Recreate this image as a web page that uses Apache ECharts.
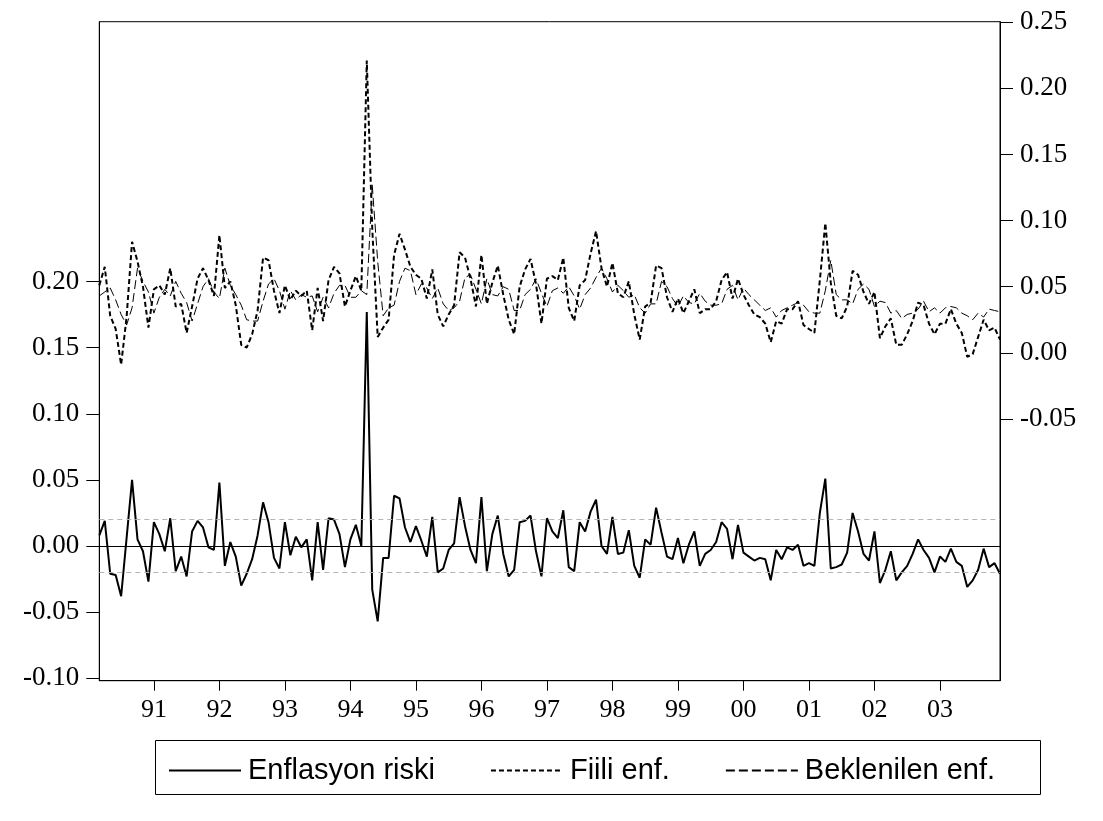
<!DOCTYPE html>
<html><head><meta charset="utf-8">
<script src="https://cdn.jsdelivr.net/npm/echarts@6/dist/echarts.min.js"></script>
<style>html,body{margin:0;padding:0;background:#fff}#c{width:1103px;height:821px}</style>
</head><body><div id="c"></div>
<script>
// Monthly observations 1990M03 - 2003M12
const startYear = 1990, startMonth = 3, nObs = 166;
const yearLabels = ['91','92','93','94','95','96','97','98','99','00','01','02','03'];
const leftTicks = [-0.10,-0.05,0.00,0.05,0.10,0.15,0.20];
const rightTicks = [-0.05,0.00,0.05,0.10,0.15,0.20,0.25];
const residBand = 0.0227;

const residual = [
 0.008,0.019,-0.021,-0.022,-0.038,0.006,0.050,0.005,-0.004,-0.027,0.018,0.009,-0.004,0.021,-0.019,-0.008,-0.023,0.011,0.019,0.014,-0.001,-0.003,0.048,-0.015,0.003,-0.008,-0.030,-0.021,-0.010,0.008,0.033,0.018,-0.009,-0.017,0.018,-0.007,0.007,-0.001,0.005,-0.026,0.018,-0.018,
 0.021,0.020,0.009,-0.016,0.005,0.016,0.000,0.177,-0.033,-0.057,-0.009,-0.009,0.038,0.036,0.014,0.003,0.015,0.004,-0.008,0.022,-0.020,-0.017,-0.003,0.002,0.037,0.015,-0.003,-0.013,0.037,-0.019,0.009,0.023,-0.006,-0.023,-0.018,0.018,0.019,0.023,-0.004,-0.023,
 0.021,0.011,0.006,0.027,-0.016,-0.019,0.018,0.011,0.026,0.035,0.000,-0.006,0.022,-0.006,-0.005,0.012,-0.015,-0.024,0.005,0.001,0.029,0.010,-0.008,-0.010,0.006,-0.013,0.001,0.011,-0.015,-0.006,-0.003,0.003,0.018,0.013,-0.010,0.016,-0.005,-0.008,-0.011,-0.009,
 -0.010,-0.026,-0.003,-0.010,-0.001,-0.003,0.001,-0.015,-0.013,-0.015,0.025,0.051,-0.017,-0.016,-0.014,-0.005,0.025,0.011,-0.006,-0.011,0.011,-0.028,-0.018,-0.004,-0.026,-0.020,-0.015,-0.006,0.005,-0.003,-0.009,-0.020,-0.008,-0.012,-0.002,-0.012,-0.015,-0.031,-0.026,-0.018,-0.002,-0.016,-0.013,-0.021
];
const actual = [
 0.051,0.065,0.028,0.018,-0.009,0.027,0.084,0.069,0.050,0.019,0.048,0.051,0.044,0.064,0.035,0.037,0.015,0.035,0.056,0.064,0.055,0.043,0.089,0.049,0.054,0.036,0.006,0.004,0.014,0.032,0.072,0.070,0.047,0.030,0.051,0.040,0.047,0.043,0.047,0.017,0.049,0.024,
 0.055,0.065,0.060,0.035,0.047,0.058,0.047,0.221,0.094,0.012,0.019,0.025,0.074,0.090,0.078,0.065,0.059,0.056,0.041,0.063,0.029,0.020,0.029,0.036,0.076,0.072,0.056,0.035,0.074,0.037,0.053,0.066,0.044,0.025,0.014,0.050,0.063,0.071,0.052,0.022,
 0.056,0.058,0.055,0.072,0.034,0.024,0.051,0.055,0.075,0.092,0.064,0.050,0.068,0.045,0.042,0.054,0.029,0.010,0.035,0.038,0.066,0.064,0.042,0.031,0.041,0.030,0.039,0.048,0.030,0.033,0.033,0.039,0.055,0.061,0.041,0.056,0.044,0.036,0.029,0.027,
 0.022,0.008,0.024,0.022,0.033,0.033,0.039,0.021,0.018,0.015,0.055,0.098,0.053,0.028,0.026,0.035,0.062,0.059,0.046,0.037,0.046,0.011,0.020,0.026,0.006,0.006,0.014,0.024,0.038,0.036,0.022,0.014,0.022,0.022,0.033,0.022,0.015,-0.003,-0.001,0.012,0.025,0.017,0.019,0.010
];
const fitted = [
 0.043,0.046,0.049,0.040,0.029,0.021,0.034,0.064,0.054,0.046,0.030,0.042,0.048,0.043,0.054,0.045,0.038,0.024,0.037,0.050,0.056,0.046,0.041,0.064,0.051,0.044,0.036,0.025,0.024,0.024,0.039,0.052,0.056,0.047,0.033,0.047,0.040,0.044,0.042,0.043,0.031,0.042,
 0.034,0.045,0.051,0.051,0.042,0.042,0.047,0.044,0.127,0.069,0.028,0.034,0.036,0.054,0.064,0.062,0.044,0.052,0.049,0.041,0.049,0.037,0.032,0.034,0.039,0.057,0.059,0.048,0.037,0.056,0.044,0.043,0.050,0.048,0.032,0.032,0.044,0.048,0.056,0.045,
 0.035,0.047,0.049,0.045,0.050,0.043,0.033,0.044,0.049,0.057,0.064,0.056,0.046,0.051,0.047,0.042,0.044,0.034,0.030,0.037,0.037,0.054,0.050,0.041,0.035,0.043,0.038,0.037,0.045,0.039,0.036,0.036,0.037,0.048,0.051,0.040,0.049,0.044,0.040,0.036,
 0.032,0.034,0.027,0.032,0.034,0.036,0.038,0.036,0.031,0.030,0.030,0.047,0.070,0.044,0.040,0.040,0.037,0.048,0.052,0.048,0.035,0.039,0.038,0.030,0.032,0.026,0.029,0.030,0.033,0.039,0.031,0.034,0.030,0.034,0.035,0.034,0.030,0.028,0.025,0.030,0.027,0.033,0.032,0.031
];

const categories = [];
for (let k = 0; k < nObs; k++) {
  const t = (startMonth - 1) + k;
  const yy = startYear + Math.floor(t / 12), mm = (t % 12) + 1;
  categories.push(yy + '-' + (mm < 10 ? '0' + mm : '' + mm));
}

const serif = 'Liberation Serif';
const chart = echarts.init(document.getElementById('c'), null, {renderer: 'canvas'});
chart.setOption({
  animation: false,
  backgroundColor: '#ffffff',
  grid: {left: 99.3, right: 103, top: 21.7, bottom: 140.3, show: true, borderColor: '#000', borderWidth: 1, containLabel: false},
  xAxis: {
    type: 'category', data: categories, boundaryGap: false,
    axisLine: {onZero: false, lineStyle: {color: '#000', width: 1}},
    axisTick: {show: true, length: 10, lineStyle: {color: '#000'}, interval: (i, v) => v.endsWith('-01')},
    axisLabel: {interval: (i, v) => v.endsWith('-01'), margin: 16, fontFamily: serif, fontSize: 26, color: '#000',
      formatter: v => yearLabels[Number(v.slice(0, 4)) - 1991]},
    splitLine: {show: false}
  },
  yAxis: [
    {type: 'value', min: -0.1019, max: 0.3966, position: 'left',
     axisLine: {show: true, onZero: false, lineStyle: {color: '#000', width: 1}},
     axisTick: {show: true, length: 13, customValues: leftTicks, lineStyle: {color: '#000'}},
     axisLabel: {customValues: leftTicks, margin: 20, fontFamily: serif, fontSize: 27, color: '#000', formatter: v => v.toFixed(2)},
     splitLine: {show: false}},
    {type: 'value', min: -0.248, max: 0.2504, position: 'right',
     axisLine: {show: true, onZero: false, lineStyle: {color: '#000', width: 1}},
     axisTick: {show: true, length: 13, customValues: rightTicks, lineStyle: {color: '#000'}},
     axisLabel: {customValues: rightTicks, margin: 20, fontFamily: serif, fontSize: 27, color: '#000', formatter: v => v.toFixed(2)},
     splitLine: {show: false}}
  ],
  legend: {
    left: 163, top: 751, itemWidth: 72, itemHeight: 14, itemGap: 55,
    itemStyle: {color: 'transparent', borderWidth: 0, opacity: 0},
    textStyle: {fontFamily: 'Liberation Sans', fontSize: 29, color: '#000', padding: [0, 0, 0, 2]},
    data: ['Enflasyon riski', 'Fiili enf.', 'Beklenilen enf.']
  },
  graphic: [{type: 'rect', shape: {x: 155.5, y: 740.5, width: 885, height: 54}, style: {fill: 'none', stroke: '#000', lineWidth: 1}, silent: true}],
  series: [
    {name: 'Enflasyon riski', type: 'line', yAxisIndex: 0, data: residual, symbol: 'none',
     lineStyle: {color: '#000', width: 2}, itemStyle: {color: '#000'}, z: 3,
     markLine: {silent: true, symbol: 'none', label: {show: false},
       data: [
         {yAxis: 0, lineStyle: {color: '#000', width: 1, type: 'solid'}},
         {yAxis: residBand, lineStyle: {color: '#b4b4b4', width: 1, type: [5, 4]}},
         {yAxis: -residBand, lineStyle: {color: '#b4b4b4', width: 1, type: [5, 4]}}
       ]}},
    {name: 'Fiili enf.', type: 'line', yAxisIndex: 1, data: actual, symbol: 'none',
     lineStyle: {color: '#000', width: 2, type: [5, 3]}, itemStyle: {color: '#000'}, z: 2},
    {name: 'Beklenilen enf.', type: 'line', yAxisIndex: 1, data: fitted, symbol: 'none',
     lineStyle: {color: '#000', width: 1, type: [9, 4]}, itemStyle: {color: '#000'}, z: 4}
  ]
});
</script></body></html>
